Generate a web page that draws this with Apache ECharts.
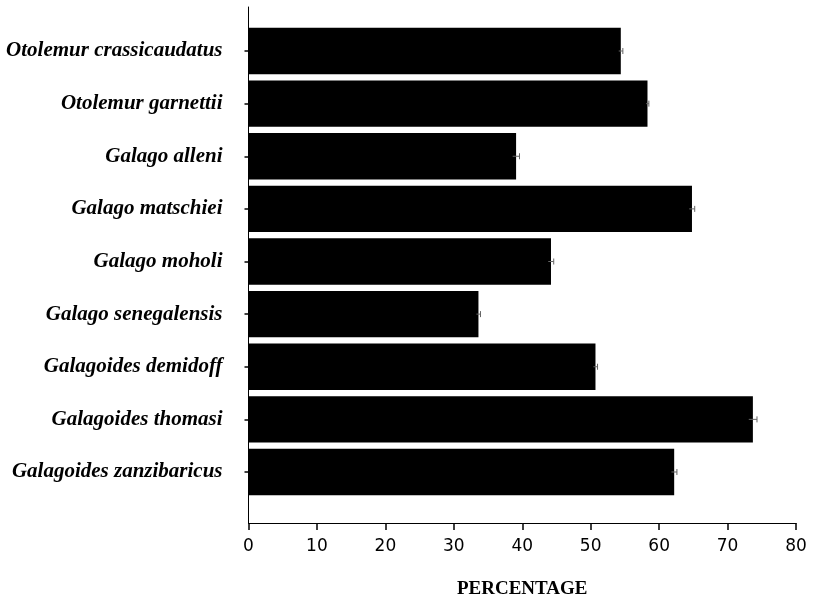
<!DOCTYPE html>
<html>
<head>
<meta charset="utf-8">
<script src="https://cdn.jsdelivr.net/npm/echarts@6/dist/echarts.min.js"></script>
<style>html,body{margin:0;padding:0;background:#fff;}#c{width:817px;height:604px;}</style>
</head>
<body>
<div id="c"></div>
<script>
const categories = ["Otolemur crassicaudatus","Otolemur garnettii","Galago alleni","Galago matschiei","Galago moholi","Galago senegalensis","Galagoides demidoff","Galagoides thomasi","Galagoides zanzibaricus"];
const values = [54.4, 58.3, 39.1, 64.8, 44.2, 33.6, 50.7, 73.7, 62.2];
const errors = [0.3, 0.2, 0.5, 0.4, 0.4, 0.3, 0.3, 0.6, 0.4];
const xTicks = [0, 10, 20, 30, 40, 50, 60, 70, 80];
const xName = "PERCENTAGE";

const chart = echarts.init(document.getElementById('c'));
const errData = values.map((v, i) => [i, v, errors[i]]);
chart.setOption({
  animation: false,
  backgroundColor: '#fff',
  grid: [
    {left: 248.5, right: 21, top: 24.7, height: 473.6, containLabel: false},
    {left: 248.5, right: 21, top: 7, height: 528, containLabel: false}
  ],
  xAxis: [
    {type: 'value', gridIndex: 0, min: xTicks[0], max: xTicks[xTicks.length-1], show: false},
    {type: 'value', gridIndex: 1, min: xTicks[0], max: xTicks[xTicks.length-1], interval: 10,
     axisLine: {show: true, lineStyle: {color: '#000', width: 1}},
     axisTick: {show: true, inside: false, length: 7, lineStyle: {color: '#000', width: 1.5}},
     axisLabel: {color: '#000', fontFamily: 'DejaVu Sans', fontSize: 17, margin: 15},
     splitLine: {show: false},
     name: xName, nameLocation: 'middle', nameGap: 57,
     nameTextStyle: {color: '#000', fontFamily: 'Liberation Serif', fontWeight: 'bold', fontSize: 19}}
  ],
  yAxis: [
    {type: 'category', gridIndex: 0, data: categories, inverse: true,
     axisLine: {show: false},
     axisTick: {show: true, alignWithLabel: true, inside: false, length: 4, lineStyle: {color: '#000', width: 1.5}},
     axisLabel: {color: '#000', fontFamily: 'Liberation Serif', fontStyle: 'italic', fontWeight: 'bold', fontSize: 21, margin: 26}},
    {type: 'value', gridIndex: 1, min: 0, max: 1,
     axisLine: {show: true, lineStyle: {color: '#000', width: 1}},
     axisTick: {show: false}, axisLabel: {show: false}, splitLine: {show: false}}
  ],
  series: [
    {type: 'bar', xAxisIndex: 0, yAxisIndex: 0, data: values, barWidth: '88%',
     itemStyle: {color: '#000'}},
    {type: 'custom', xAxisIndex: 0, yAxisIndex: 0, data: errData, z: 5,
     renderItem: function (params, api) {
       const idx = api.value(0), v = api.value(1), e = api.value(2);
       const p1 = api.coord([v - e, idx]);
       const p2 = api.coord([v + e, idx]);
       const h = 3;
       const style = {stroke: '#666', lineWidth: 1, fill: null};
       return {type: 'group', children: [
         {type: 'line', shape: {x1: p1[0], y1: p1[1], x2: p2[0], y2: p2[1]}, style: style},
         {type: 'line', shape: {x1: p2[0], y1: p2[1] - h, x2: p2[0], y2: p2[1] + h}, style: style}
       ]};
     }}
  ]
});
</script>
</body>
</html>
